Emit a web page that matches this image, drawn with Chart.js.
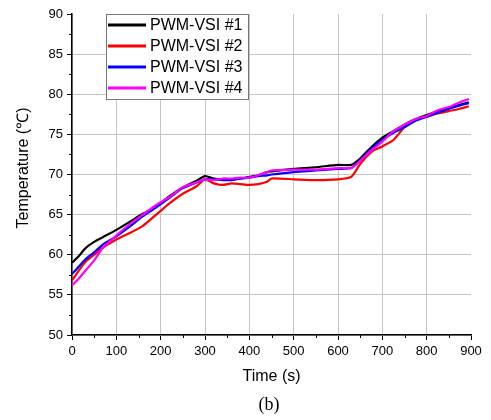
<!DOCTYPE html>
<html>
<head>
<meta charset="utf-8">
<script src="https://cdn.jsdelivr.net/npm/chart.js@4.4.1/dist/chart.umd.min.js"></script>
<style>
  html, body { margin: 0; padding: 0; background: #fff; }
  #wrap { width: 491px; height: 420px; }
</style>
</head>
<body>
<div id="wrap"><canvas id="tempChart" width="491" height="420"></canvas></div>
<script>
// time samples (s)
const times = [0, 15, 30, 50, 70, 100, 130, 160, 190, 220, 250, 280, 300, 320, 340, 360, 380, 400, 420, 440, 450, 500, 550, 600, 630, 650, 675, 700, 725, 750, 775, 800, 825, 850, 875, 895];

// temperatures (°C)
const vsi1 = [59.0, 59.8, 60.8, 61.6, 62.2, 63.1, 64.1, 65.1, 66.0, 67.3, 68.4, 69.2, 69.8, 69.5, 69.4, 69.4, 69.5, 69.7, 69.9, 70.3, 70.4, 70.7, 70.9, 71.2, 71.2, 72.0, 73.4, 74.6, 75.4, 76.2, 76.9, 77.4, 77.9, 78.3, 78.7, 79.0];
const vsi2 = [56.8, 58.0, 59.1, 60.0, 60.9, 61.9, 62.7, 63.6, 65.0, 66.4, 67.6, 68.5, 69.4, 68.9, 68.7, 68.9, 68.8, 68.7, 68.8, 69.1, 69.5, 69.4, 69.3, 69.4, 69.7, 71.3, 72.8, 73.5, 74.3, 75.9, 76.8, 77.2, 77.6, 77.9, 78.2, 78.5];
const vsi3 = [57.6, 58.5, 59.4, 60.3, 61.3, 62.3, 63.5, 64.8, 65.9, 67.1, 68.3, 69.0, 69.4, 69.4, 69.3, 69.3, 69.5, 69.6, 69.8, 69.9, 70.0, 70.3, 70.5, 70.7, 70.8, 71.8, 73.2, 74.3, 75.2, 75.9, 76.7, 77.2, 77.7, 78.2, 78.6, 78.9];
const vsi4 = [56.2, 57.0, 58.0, 59.3, 60.9, 62.4, 63.8, 65.0, 66.2, 67.2, 68.4, 69.0, 69.4, 69.3, 69.5, 69.5, 69.6, 69.6, 69.9, 70.3, 70.5, 70.6, 70.6, 70.8, 70.8, 71.7, 73.0, 74.1, 75.4, 76.2, 76.9, 77.3, 78.0, 78.4, 79.0, 79.4];

const seriesNames = ['PWM-VSI #1', 'PWM-VSI #2', 'PWM-VSI #3', 'PWM-VSI #4'];
const seriesColors = ['#000000', '#ff0000', '#0000ff', '#ff00ff'];
const xTicks = [0, 100, 200, 300, 400, 500, 600, 700, 800, 900];
const yTicks = [50, 55, 60, 65, 70, 75, 80, 85, 90];

const allSeries = [vsi1, vsi2, vsi3, vsi4];
const datasets = allSeries.map((vals, i) => ({
  label: seriesNames[i],
  data: vals.map((v, j) => ({ x: times[j], y: v })),
  borderColor: seriesColors[i],
  borderWidth: 2.2,
  pointRadius: 0,
  tension: 0.2,
  fill: false,
  order: 3 - i
}));

// minor ticks, axis titles, legend box, caption
const extras = {
  id: 'extras',
  afterDraw(chart) {
    const ctx = chart.ctx;
    const xs = chart.scales.x, ys = chart.scales.y;
    const area = chart.chartArea;
    ctx.save();
    ctx.strokeStyle = '#000';
    ctx.lineWidth = 1;
    ctx.beginPath();
    for (let i = 0; i < xTicks.length - 1; i++) {
      const px = Math.round(xs.getPixelForValue((xTicks[i] + xTicks[i + 1]) / 2)) + 0.5;
      ctx.moveTo(px, area.bottom);
      ctx.lineTo(px, area.bottom + 3);
    }
    for (let i = 0; i < yTicks.length - 1; i++) {
      const py = Math.round(ys.getPixelForValue((yTicks[i] + yTicks[i + 1]) / 2)) + 0.5;
      ctx.moveTo(area.left, py);
      ctx.lineTo(area.left - 3, py);
    }
    ctx.stroke();

    // axis titles
    ctx.fillStyle = '#000';
    ctx.font = '16px "Liberation Sans", Arial, sans-serif';
    ctx.textAlign = 'center';
    ctx.textBaseline = 'middle';
    ctx.fillText('Time (s)', (area.left + area.right) / 2, 377);
    ctx.save();
    ctx.translate(24, 168);
    ctx.rotate(-Math.PI / 2);
    ctx.fillText('Temperature (\u2103)', 0, 0);
    ctx.restore();

    ctx.font = '18px "Liberation Serif", "Times New Roman", serif';
    ctx.fillText('(b)', 269, 405);

    // legend
    ctx.fillStyle = '#fff';
    ctx.fillRect(106, 14, 142, 85);
    ctx.strokeStyle = '#777';
    ctx.lineWidth = 1;
    ctx.strokeRect(106.5, 14.5, 142, 85);
    ctx.font = '16px "Liberation Sans", Arial, sans-serif';
    ctx.textAlign = 'left';
    chart.data.datasets.forEach((ds, i) => {
      const cy = 25 + i * 21;
      ctx.strokeStyle = ds.borderColor;
      ctx.lineWidth = 3;
      ctx.beginPath();
      ctx.moveTo(108, cy);
      ctx.lineTo(146, cy);
      ctx.stroke();
      ctx.fillStyle = '#000';
      ctx.fillText(ds.label, 150, cy + 1);
    });
    ctx.restore();
  }
};

const gridColor = (ctx, edge) => (ctx.tick && ctx.tick.value === edge) ? 'rgba(0,0,0,0)' : '#c4c4c4';

new Chart(document.getElementById('tempChart'), {
  type: 'line',
  data: { datasets },
  options: {
    responsive: false,
    animation: false,
    layout: { padding: { left: 0, right: 20, top: 14, bottom: 0 } },
    plugins: { legend: { display: false }, tooltip: { enabled: false } },
    scales: {
      x: {
        type: 'linear',
        min: 0, max: 900,
        afterFit: s => { s.height = 85; },
        afterBuildTicks: s => { s.ticks = xTicks.map(v => ({ value: v })); },
        border: { color: '#000', width: 1.5 },
        grid: {
          color: c => gridColor(c, 900),
          borderDash: [3, 3],
          tickColor: '#000',
          tickLength: 5,
          tickWidth: 1
        },
        ticks: {
          color: '#000', padding: 4, maxRotation: 0, autoSkip: false,
          font: { size: 13, family: '"Liberation Sans", Arial, sans-serif' }
        }
      },
      y: {
        type: 'linear',
        min: 50, max: 90,
        afterFit: s => { s.width = 72; },
        afterBuildTicks: s => { s.ticks = yTicks.map(v => ({ value: v })); },
        border: { color: '#000', width: 1.5 },
        grid: {
          color: c => gridColor(c, 90),
          borderDash: [3, 3],
          tickColor: '#000',
          tickLength: 5,
          tickWidth: 1
        },
        ticks: {
          color: '#000', padding: 4,
          font: { size: 13, family: '"Liberation Sans", Arial, sans-serif' }
        }
      }
    }
  },
  plugins: [extras]
});
</script>
</body>
</html>
